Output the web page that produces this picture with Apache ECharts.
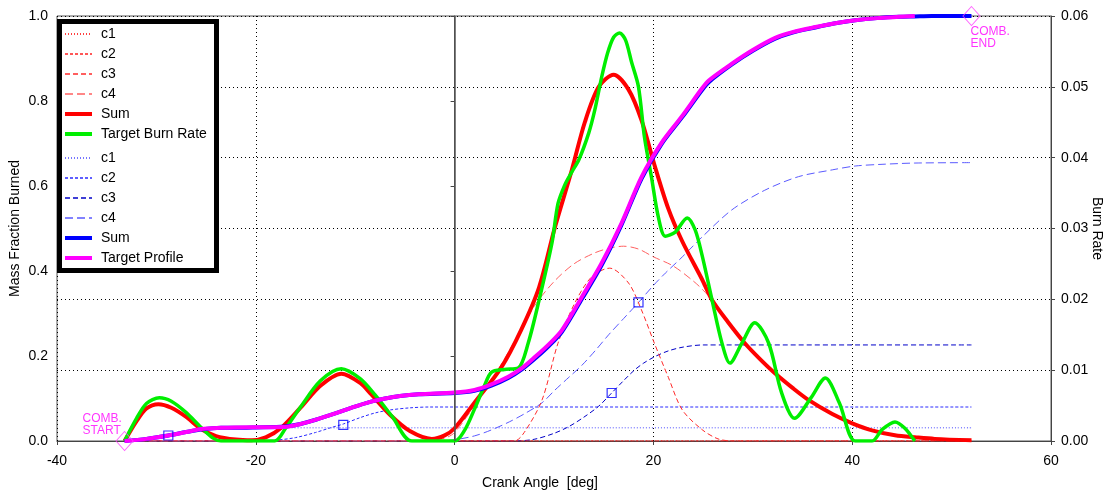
<!DOCTYPE html>
<html>
<head>
<meta charset="utf-8">
<script src="https://cdn.jsdelivr.net/npm/echarts@6/dist/echarts.min.js"></script>
<style>
html,body{margin:0;padding:0;background:#fff;}
#chart{width:1111px;height:497px;}
</style>
</head>
<body>
<div id="chart"></div>
<script>
// ---------- data ----------
const xTicks = [-40, -20, 0, 20, 40, 60];

// Burn rates (right axis)
const redC1 = [[-33.2,0],[-32,0.0028],[-31,0.0046],[-29.8,0.0052],[-28.5,0.0047],[-27,0.0034],[-25.5,0.0017],[-24,0.0007],[-22.5,0.0001],[-21,0],[52,0]];
const redC2 = [[-33.2,0],[-20.5,0],[-19,0.0005],[-17.4,0.0019],[-15.5,0.0047],[-13.5,0.0078],[-11.4,0.0095],[-9.5,0.0082],[-8.4,0.0066],[-6.5,0.0037],[-4.5,0.0014],[-2.5,0.0003],[-1,0],[52,0]];
const redC3 = [[-33.2,0],[6,0],[7,0.0012],[8.8,0.0058],[10.4,0.0138],[12.1,0.0195],[13.8,0.0232],[15.6,0.0244],[17.5,0.0223],[18.8,0.0185],[20.1,0.0138],[21.5,0.009],[22.9,0.0044],[24.9,0.0016],[26.5,0.0003],[28,0],[52,0]];
const redC4 = [[-33.2,0],[-3,0],[-1,0.0004],[0,0.0012],[2,0.005],[4,0.0092],[6,0.014],[8,0.019],[10,0.0225],[12,0.025],[14,0.0265],[15.5,0.0272],[17,0.0275],[18.5,0.0271],[20,0.026],[22,0.0247],[24,0.0226],[25,0.0213],[25.9,0.0199],[27.5,0.0168],[29.2,0.0138],[30.7,0.0116],[32.2,0.0096],[34,0.0075],[35.6,0.0058],[38,0.0038],[40,0.0025],[42,0.0015],[44.3,0.0008],[46.5,0.0005],[48.3,0.0003],[52,0.0001]];
const redSum = [[-33.2,0],[-32,0.0028],[-31,0.0046],[-29.8,0.0052],[-28.5,0.0047],[-27,0.0034],[-25.5,0.0017],[-24,0.0007],[-22,0.0002],[-20.4,0.0001],[-19,0.0005],[-17.4,0.0019],[-15.5,0.0047],[-13.5,0.0078],[-11.4,0.0095],[-9.5,0.0082],[-8.4,0.0066],[-6.5,0.0037],[-4.5,0.0014],[-2.3,0.0003],[-1,0.0008],[0,0.0018],[2,0.0054],[4.7,0.0104],[6.7,0.0157],[8.5,0.0217],[10.1,0.0302],[11.8,0.0383],[13.1,0.0450],[14.5,0.0500],[16,0.0517],[17.5,0.0496],[18.8,0.0453],[20.1,0.0390],[21.5,0.0328],[22.9,0.0282],[24.9,0.0228],[25.9,0.0199],[27.5,0.0168],[29.2,0.0138],[30.7,0.0116],[32.2,0.0096],[34,0.0075],[35.6,0.0058],[38,0.0038],[40,0.0025],[42,0.0015],[44.3,0.0008],[46.5,0.0005],[48.3,0.0003],[52,0.0001]];
const targetBurnRate = [[-33.2,0],[-32,0.0032],[-31,0.0053],[-29.7,0.0061],[-28.5,0.0056],[-27,0.004],[-25.5,0.0019],[-24.3,0.0004],[-23.5,0],[-18.1,0],[-17,0.0018],[-15.5,0.0048],[-13.5,0.0085],[-11.4,0.0102],[-9.5,0.0088],[-8,0.0065],[-6.3,0.0035],[-4.3,0],[0,0],[1,0.0015],[2,0.0045],[3,0.0078],[3.7,0.0097],[5,0.0101],[6.4,0.0103],[7.4,0.0138],[8.5,0.0199],[9.8,0.028],[10.4,0.0335],[11.1,0.0362],[11.8,0.038],[12.5,0.0397],[13.5,0.0435],[14.1,0.0467],[14.8,0.0514],[15.4,0.0548],[16,0.057],[16.6,0.0576],[17.2,0.0566],[17.8,0.0535],[18.5,0.05],[19.1,0.0429],[19.8,0.0373],[20.5,0.0316],[21.2,0.0289],[22.2,0.0295],[23.4,0.0315],[24.2,0.0298],[24.9,0.0262],[25.9,0.0199],[26.9,0.0138],[27.7,0.011],[28.9,0.0138],[30.2,0.0167],[31.6,0.0138],[32.9,0.0068],[34.2,0.0032],[35.9,0.0062],[37.3,0.0089],[38.7,0.0054],[40.3,0],[42,0],[43,0.0016],[44.3,0.0027],[45.3,0.0018],[46.3,0]];

// Mass fraction burned (left axis)
const blueC1 = [[-33.2,0],[-31,0.005],[-29.5,0.01],[-28,0.016],[-26.5,0.022],[-25,0.027],[-23.5,0.03],[-22,0.031],[52,0.031]];
const blueC2 = [[-33.2,0],[-20.5,0],[-18,0.002],[-16,0.008],[-14,0.02],[-12.5,0.031],[-11.2,0.04],[-9.5,0.055],[-8,0.066],[-6.5,0.073],[-4.5,0.078],[-2.5,0.08],[52,0.08]];
const blueC3 = [[-33.2,0],[6,0],[8,0.004],[10,0.018],[11.5,0.034],[13,0.056],[14.5,0.082],[15.8,0.113],[17,0.142],[18.1,0.167],[19,0.183],[20.1,0.198],[21.5,0.212],[23,0.221],[25,0.226],[52,0.226]];
const blueC4 = [[-33.2,0],[-2,0],[0,0.003],[2,0.012],[3.7,0.026],[5.5,0.045],[7.1,0.065],[8.8,0.09],[10.1,0.12],[11.5,0.15],[12.8,0.178],[14.2,0.214],[15.5,0.25],[17,0.288],[18.5,0.326],[20,0.366],[21.2,0.395],[22.9,0.433],[24.9,0.48],[27.9,0.544],[31.2,0.59],[34.6,0.622],[38,0.638],[40.3,0.647],[43,0.651],[46.3,0.654],[52,0.655]];
const blueSum = [[-33.2,0],[-31,0.005],[-28.8,0.013],[-27,0.021],[-25.5,0.027],[-23.5,0.031],[-22.2,0.031],[-20,0.032],[-17.1,0.034],[-15.5,0.04],[-13.7,0.052],[-12,0.065],[-10.4,0.078],[-8.5,0.092],[-7,0.1],[-5.5,0.106],[-3.6,0.11],[0,0.113],[2,0.118],[3.7,0.13],[5.4,0.148],[6.8,0.169],[8.1,0.194],[9.5,0.224],[10.8,0.257],[12.8,0.334],[14.8,0.414],[16.8,0.509],[18.8,0.617],[20.8,0.698],[22.9,0.762],[24.9,0.826],[25.6,0.845],[27.9,0.886],[30,0.918],[32.2,0.946],[34,0.961],[36.3,0.973],[38.3,0.983],[40.3,0.99],[42.5,0.995],[44.7,0.998],[46.3,0.999],[48,1.0],[52,1.0]];
const targetProfile = [[-33.2,0],[-31,0.005],[-28.8,0.013],[-27,0.021],[-25.5,0.028],[-23.5,0.031],[-22.2,0.032],[-17.1,0.033],[-15.5,0.04],[-13.7,0.052],[-12,0.065],[-10.4,0.078],[-8.5,0.092],[-7,0.1],[-5.5,0.106],[-3.6,0.11],[0,0.114],[2,0.12],[3.7,0.133],[5.4,0.151],[6.8,0.172],[8.1,0.198],[9.5,0.228],[10.8,0.261],[12.8,0.339],[14.8,0.419],[16.8,0.513],[18.8,0.621],[20.8,0.701],[22.9,0.765],[24.9,0.83],[25.6,0.849],[27.9,0.888],[30,0.92],[32.2,0.948],[34,0.962],[36.3,0.974],[38.3,0.983],[40.3,0.99],[42.5,0.995],[44.7,0.998],[46.3,1.0]];

// 50% burn points of the components
const halfPoints = [[-28.8,0.013],[-11.2,0.038],[15.8,0.113],[18.5,0.326]];
const combStart = [-33.2, 0];
const combEnd = [52, 1.0];

// ---------- chart ----------
const FONT = 'Liberation Sans, Arial, sans-serif';
const chart = echarts.init(document.getElementById('chart'), null, {renderer:'canvas'});

function comp(name, data, yIdx, color, dash, extra) {
  return Object.assign({
    name, type:'line', data, yAxisIndex:yIdx, symbol:'none', smooth:0.3,
    lineStyle:{color, width:1, type:dash}, itemStyle:{color}, z:2, silent:true
  }, extra||{});
}
function thick(name, data, yIdx, color, w) {
  return {name, type:'line', data, yAxisIndex:yIdx, symbol:'none', smooth:0.3,
    lineStyle:{color, width:w, type:'solid'}, itemStyle:{color}, z:3, silent:true};
}

const legendText = {color:'#000', fontFamily:FONT, fontSize:14, lineHeight:14, padding:[0,0,0,4]};
const legendBase = {
  orient:'vertical', left:63, itemWidth:27, itemHeight:14, itemGap:6, padding:0,
  textStyle:legendText, selectedMode:false, z:10,
  itemStyle:{opacity:0},
  formatter: n => n.split('#')[0]
};
const thin = n => ({name:n, lineStyle:{width:1.6}});
const fat = n => ({name:n, lineStyle:{width:4}});

chart.setOption({
  animation:false,
  backgroundColor:'#fff',
  grid:{left:57, right:60, top:16, bottom:56, show:true, borderColor:'#555', borderWidth:1,
        containLabel:false, outerBoundsMode:'none'},
  graphic:[{
    type:'rect', z:8, silent:true,
    shape:{x:59.5, y:21.5, width:157, height:249},
    style:{fill:'#fff', stroke:'#000', lineWidth:5}
  }],
  legend:[
    Object.assign({}, legendBase, {top:27, data:[thin('c1#r'),thin('c2#r'),thin('c3#r'),thin('c4#r'),fat('Sum#r'),fat('Target Burn Rate')]}),
    Object.assign({}, legendBase, {top:151, data:[thin('c1#b'),thin('c2#b'),thin('c3#b'),thin('c4#b'),fat('Sum#b'),fat('Target Profile')]})
  ],
  xAxis:{
    type:'value', min:-40, max:60, interval:20,
    name:'Crank Angle  [deg]', nameLocation:'middle', nameGap:35, nameMoveOverlap:false,
    nameTextStyle:{color:'#000', fontFamily:FONT, fontSize:14, padding:[0,28,0,0]},
    axisLine:{show:true, onZero:false, lineStyle:{color:'#444', width:1}},
    axisTick:{show:true, inside:false, length:4, lineStyle:{color:'#444'}},
    axisLabel:{color:'#000', fontFamily:FONT, fontSize:14, margin:13},
    splitLine:{show:true, lineStyle:{color:'#000', width:1, type:[1,3]}}
  },
  yAxis:[{
    type:'value', min:0, max:1, interval:0.2, position:'left',
    name:'Mass Fraction Burned', nameLocation:'middle', nameGap:35, nameRotate:90, nameMoveOverlap:false,
    nameTextStyle:{color:'#000', fontFamily:FONT, fontSize:14},
    axisLine:{show:true, lineStyle:{color:'#444', width:1}},
    axisTick:{show:true, length:4, lineStyle:{color:'#444'}},
    axisLabel:{color:'#000', fontFamily:FONT, fontSize:14, margin:9, formatter:v=>v.toFixed(1)},
    splitLine:{show:false}
  },{
    type:'value', min:0, max:0.06, interval:0.01, position:'right',
    name:'Burn Rate', nameLocation:'middle', nameGap:39, nameRotate:-90, nameMoveOverlap:false,
    nameTextStyle:{color:'#000', fontFamily:FONT, fontSize:14},
    axisLine:{show:true, lineStyle:{color:'#444', width:1}},
    axisTick:{show:true, length:4, lineStyle:{color:'#444'}},
    axisLabel:{color:'#000', fontFamily:FONT, fontSize:14, margin:10, formatter:v=>v.toFixed(2)},
    splitLine:{show:true, lineStyle:{color:'#000', width:1, type:[1,3]}}
  }],
  series:[
    comp('c1#b', blueC1, 0, '#4a4aff', [1,2], {
      markLine:{silent:true, symbol:['none','none'], label:{show:false},
        lineStyle:{color:'#555', width:1.5, type:'solid'}, data:[{xAxis:0}]}
    }),
    comp('c2#b', blueC2, 0, '#2a2aff', [3,2]),
    comp('c3#b', blueC3, 0, '#0000c8', [5,3]),
    comp('c4#b', blueC4, 0, '#5a5aff', [8,4]),
    comp('c1#r', redC1, 1, '#ff0000', [1,2]),
    comp('c2#r', redC2, 1, '#ff2020', [3,2]),
    comp('c3#r', redC3, 1, '#ff2a2a', [5,3]),
    comp('c4#r', redC4, 1, '#ff6060', [8,4]),
    thick('Sum#r', redSum, 1, '#ff0000', 4),
    thick('Target Burn Rate', targetBurnRate, 1, '#00ee00', 3.5),
    thick('Sum#b', blueSum, 0, '#0000ff', 4),
    thick('Target Profile', targetProfile, 0, '#ff00ff', 4),
    {
      name:'half', type:'scatter', yAxisIndex:0, data:halfPoints, symbol:'rect', symbolSize:9,
      itemStyle:{color:'rgba(0,0,0,0)', borderColor:'#0000ff', borderWidth:1.2}, z:5, silent:true
    },
    {
      name:'comb', type:'scatter', yAxisIndex:0, symbol:'diamond', symbolSize:[17,19], z:5, silent:true,
      itemStyle:{color:'rgba(0,0,0,0)', borderColor:'#ff40ff', borderWidth:1},
      data:[
        {value:combStart, label:{show:true, formatter:'COMB.\nSTART', position:[-33,-18], align:'left', verticalAlign:'top',
          color:'#ff00ff', fontFamily:FONT, fontSize:12, lineHeight:12}},
        {value:combEnd, label:{show:true, formatter:'COMB.\nEND', position:[8,20], align:'left', verticalAlign:'top',
          color:'#ff00ff', fontFamily:FONT, fontSize:12, lineHeight:12}}
      ]
    }
  ]
});
</script>
</body>
</html>
